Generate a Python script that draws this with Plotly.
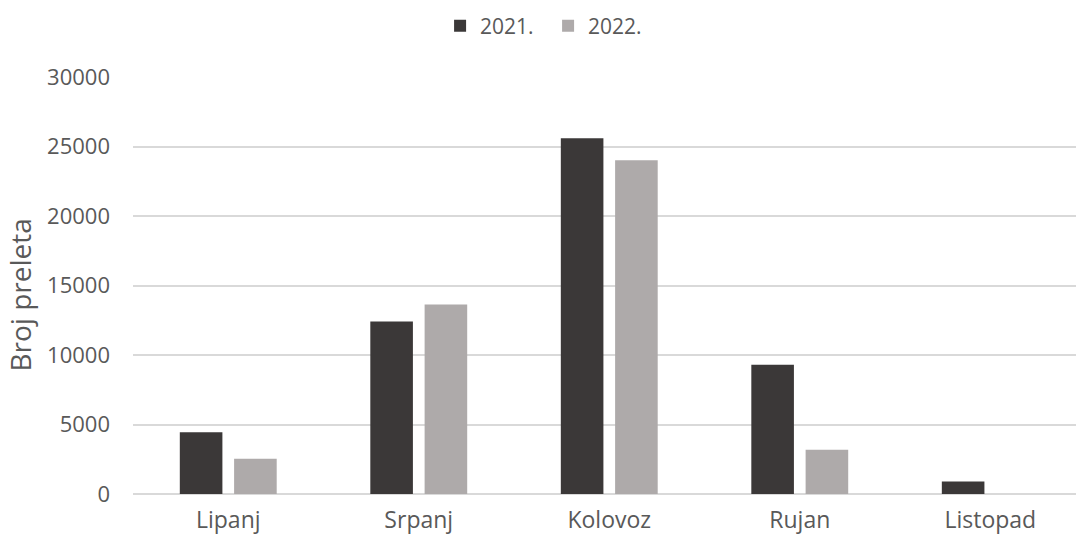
import plotly.graph_objects as go

# Monthly flyover counts per season
months = ["Lipanj", "Srpanj", "Kolovoz", "Rujan", "Listopad"]
counts_2021 = [4450, 12410, 25590, 9300, 900]
counts_2022 = [2540, 13630, 24010, 3180, None]
y_ticks = [0, 5000, 10000, 15000, 20000, 25000, 30000]

COLOR_2021 = "#3B3838"
COLOR_2022 = "#AEAAAA"
TEXT = "#595959"
GRID = "#D9D9D9"
FONT = "Open Sans"

bar_w = 0.2236
fig = go.Figure()
fig.add_trace(go.Bar(
    x=months, y=counts_2021, name="2021.",
    marker=dict(color=COLOR_2021, line=dict(width=0)),
    width=bar_w, offset=-0.2543,
))
fig.add_trace(go.Bar(
    x=months, y=counts_2022, name="2022.",
    marker=dict(color=COLOR_2022, line=dict(width=0)),
    width=bar_w, offset=0.0307,
))

fig.update_layout(
    width=1076, height=542,
    margin=dict(l=133, r=0, t=77, b=48),
    paper_bgcolor="white", plot_bgcolor="white",
    barmode="overlay",
    font=dict(family=FONT, color=TEXT, size=21),
    showlegend=True,
    legend=dict(
        orientation="h", xref="container", yref="container",
        x=0.409, xanchor="left", y=0.952, yanchor="middle",
        font=dict(size=21, color=TEXT), traceorder="normal",
        itemwidth=30, entrywidthmode="pixels", entrywidth=63,
    ),
    xaxis=dict(
        range=[-0.5, 4.45], showgrid=False, showline=False, zeroline=False,
        ticks="", tickfont=dict(size=23, color=TEXT), ticklabelstandoff=10,
        fixedrange=True,
    ),
    yaxis=dict(
        range=[0, 30000], tickvals=y_ticks, ticktext=[str(v) for v in y_ticks],
        showgrid=True, gridcolor=GRID, gridwidth=1.5,
        zeroline=True, zerolinecolor=GRID, zerolinewidth=1.5,
        showline=False, ticks="", tickfont=dict(size=22, color=TEXT),
        ticklabelstandoff=22,
    ),
    annotations=[dict(
        text="Broj preleta", textangle=-90, showarrow=False,
        xref="paper", yref="paper", x=-0.1195, y=0.4766,
        xanchor="center", yanchor="middle",
        font=dict(size=28, color=TEXT),
    )],
)

fig.write_html("out.html")
